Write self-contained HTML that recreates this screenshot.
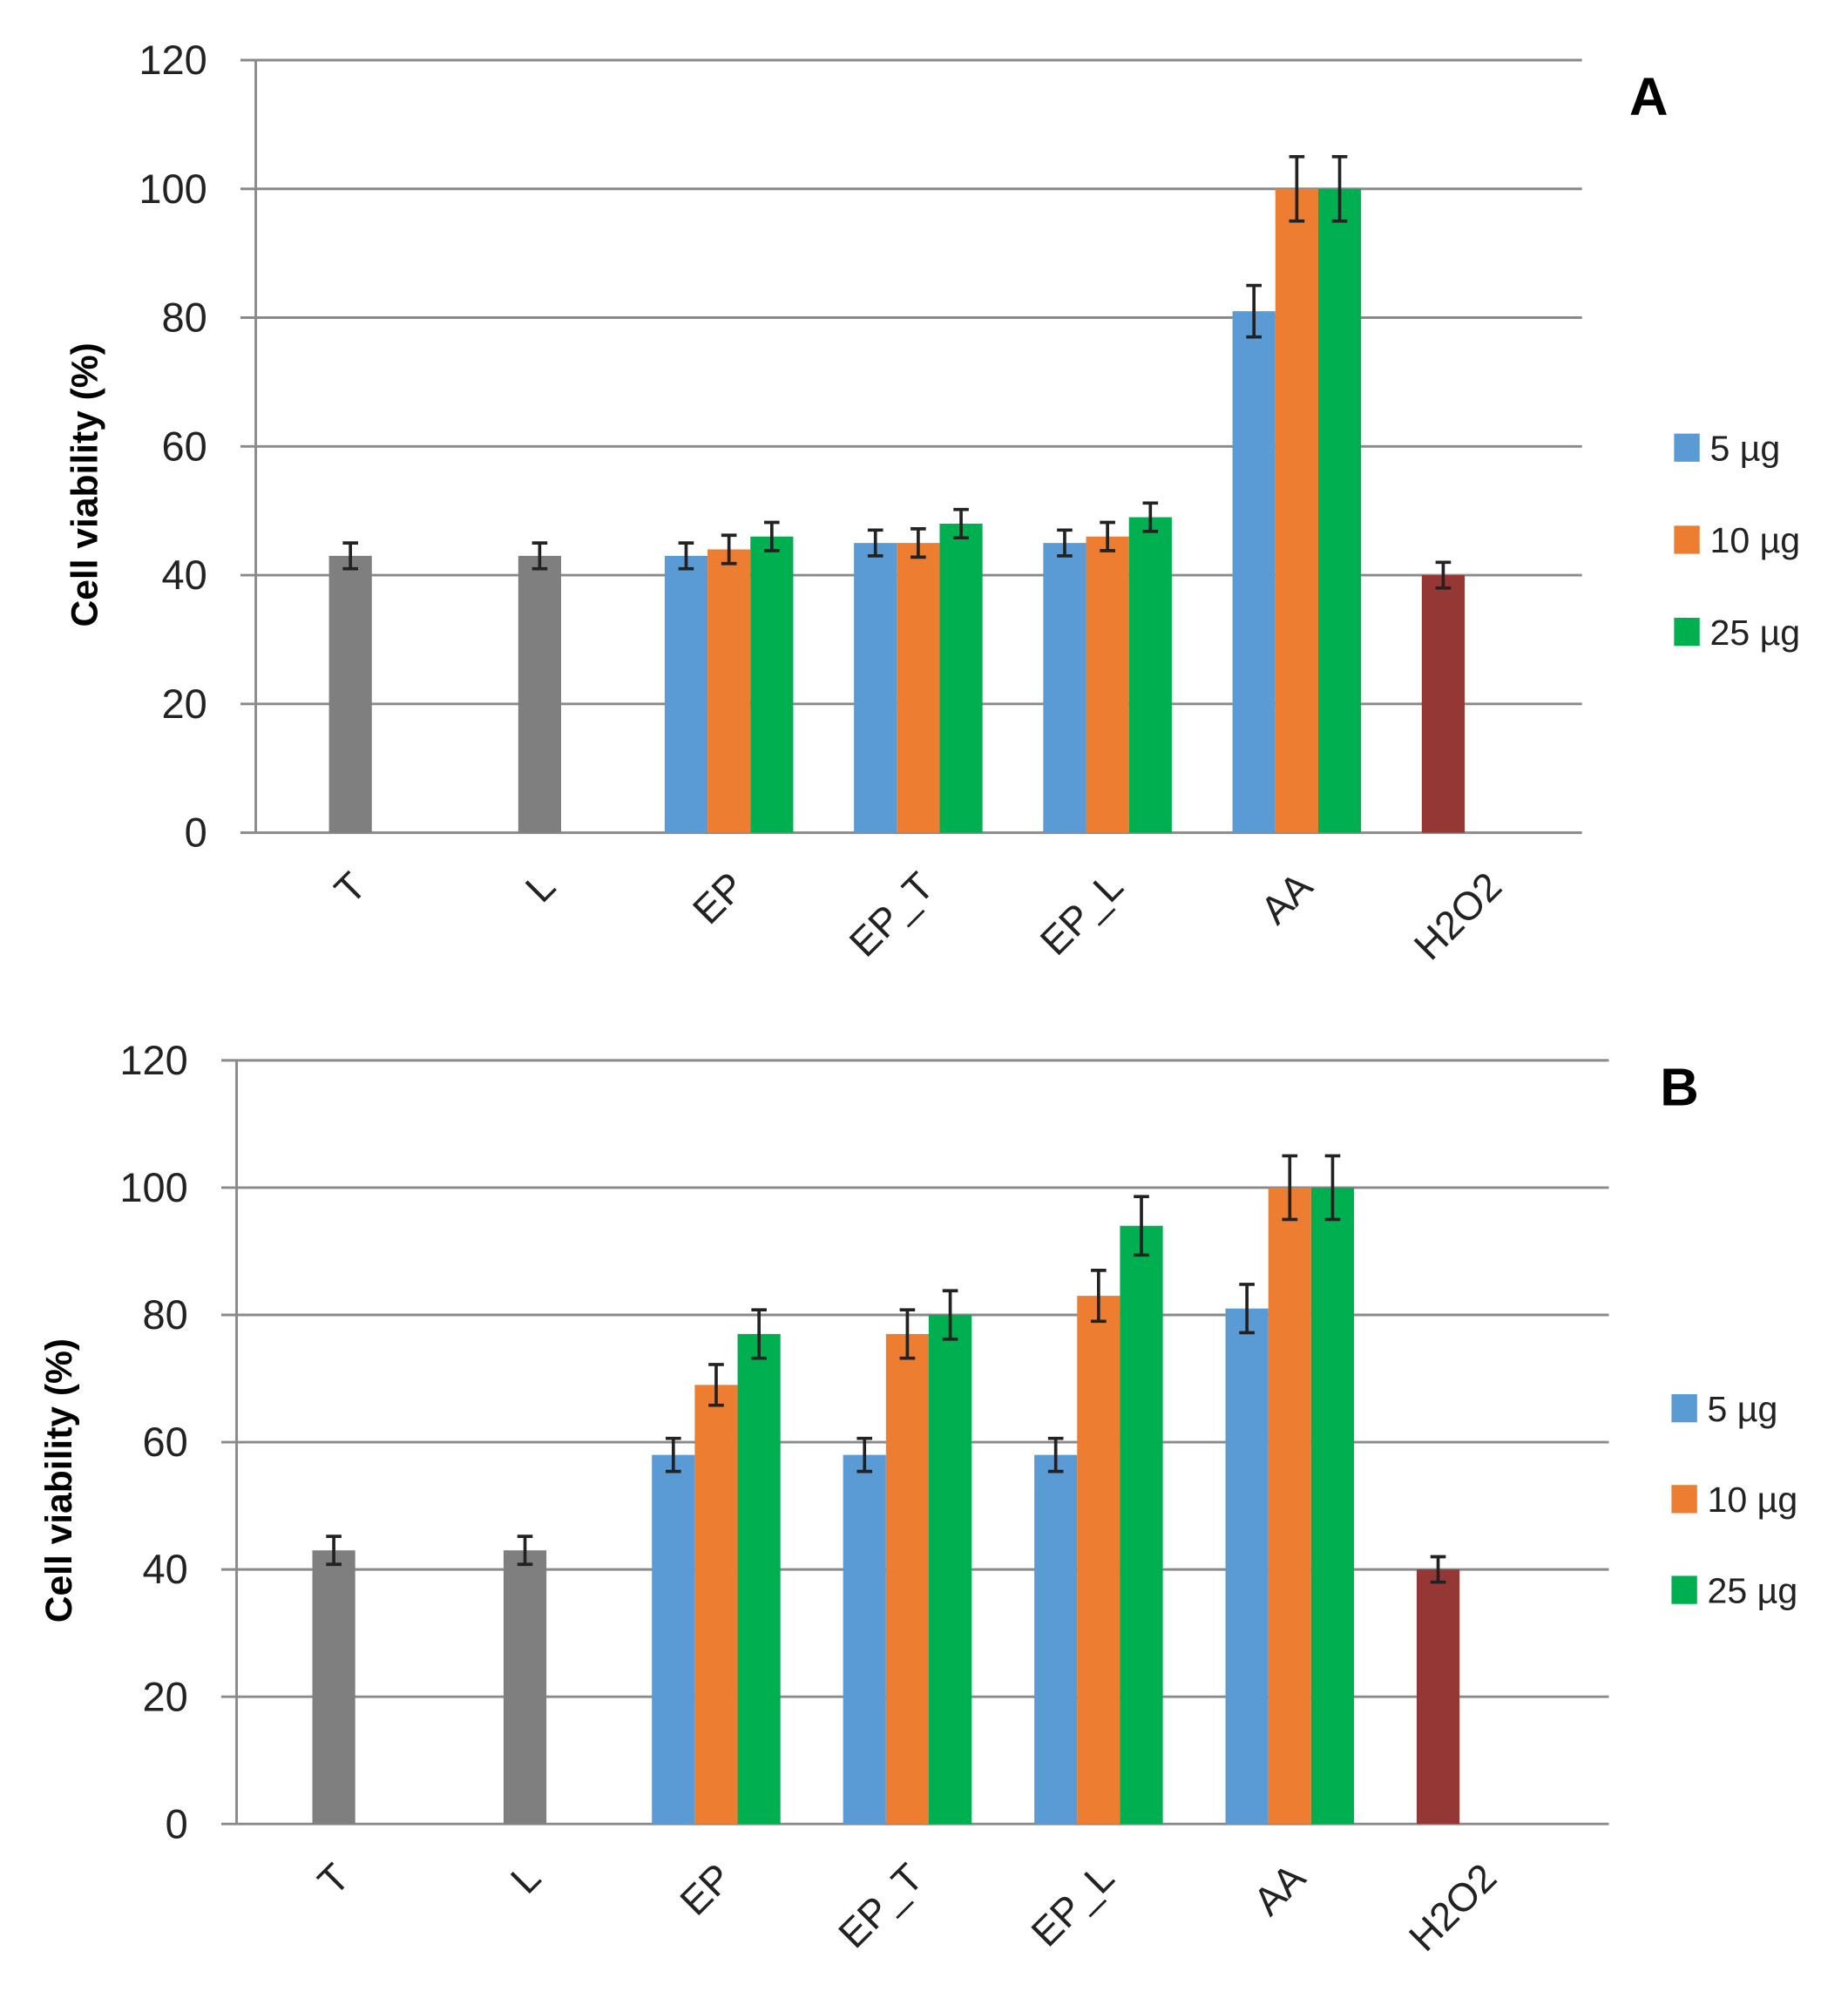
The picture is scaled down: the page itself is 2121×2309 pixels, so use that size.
<!DOCTYPE html>
<html><head><meta charset="utf-8"><style>
html,body{margin:0;padding:0;background:#fff;}
svg{display:block;}
text{font-family:"Liberation Sans",sans-serif;}
</style></head><body>
<svg id="fig" width="2121" height="2309" viewBox="0 0 1445 1573" preserveAspectRatio="none" xmlns="http://www.w3.org/2000/svg"></svg>
<script>
const categories = ["T","L","EP","EP_T","EP_L","AA","H2O2"];
const seriesNames = ["5 µg","10 µg","25 µg"];
const yTicks = [0,20,40,60,80,100,120];
// Panel A values
const aControl = [43,43,null,null,null,null,40];
const aControlErr = [2,2,null,null,null,null,2];
const a5 = [null,null,43,45,45,81,null];
const a10 = [null,null,44,45,46,100,null];
const a25 = [null,null,46,48,49,100,null];
const a5Err = [null,null,2,2,2,4,null];
const a10Err = [null,null,2.2,2.2,2.2,5,null];
const a25Err = [null,null,2.2,2.2,2.2,5,null];
// Panel B values
const bControl = [43,43,null,null,null,null,40];
const bControlErr = [2.2,2.2,null,null,null,null,2];
const b5 = [null,null,58,58,58,81,null];
const b10 = [null,null,69,77,83,100,null];
const b25 = [null,null,77,80,94,100,null];
const b5Err = [null,null,2.6,2.6,2.6,3.8,null];
const b10Err = [null,null,3.2,3.8,4,5,null];
const b25Err = [null,null,3.8,3.8,4.6,5,null];

const NS="http://www.w3.org/2000/svg";
const svg=document.getElementById('fig');
function mk(tag,attrs,parent){const e=document.createElementNS(NS,tag);for(const k in attrs)e.setAttribute(k,attrs[k]);(parent||svg).appendChild(e);return e;}
const colors=["#5B9BD5","#ED7D31","#00B050"];
const ctrlColors=["#7F7F7F","#7F7F7F",null,null,null,null,"#953735"];
const ctrlSlot=[0,0,null,null,null,null,-1];

function panel(p){
  const g=mk('g',{});
  
  
  const y=v=>p.y0-(v/120)*(p.y0-p.y120);
  const cx=i=>p.c0+i*p.step;
  yTicks.forEach(t=>{
    const l=mk('line',{x1:p.xl-12,x2:p.xr,y1:y(t),y2:y(t),stroke:'#8a8a8a','stroke-width':2},g);
    
    
    const tx=mk('text',{x:p.xl-38,y:y(t)+11,'text-anchor':'end','font-size':32,fill:'#222'},g);
    tx.textContent=t;
    
    
  });
  const ax=mk('line',{x1:p.xl,x2:p.xl,y1:p.y120,y2:p.y0,stroke:'#8a8a8a','stroke-width':2},g);
  
  
  const bw=p.bw;
  function bar(xc,v,e,col,name){
    const r=mk('rect',{x:xc-bw/2,y:y(v),width:bw,height:y(0)-y(v),fill:col},g);
    
    
    const eb=mk('path',{d:`M${xc} ${y(v+e)}V${y(v-e)}M${xc-6} ${y(v+e)}H${xc+6}M${xc-6} ${y(v-e)}H${xc+6}`,stroke:'#222','stroke-width':2.5,fill:'none'},g);
    
    
  }
  categories.forEach((c,i)=>{
    if(p.ctrl[i]!=null) bar(cx(i)+ctrlSlot[i]*bw,p.ctrl[i],p.ctrlErr[i],ctrlColors[i],'bar-'+c);
    p.series.forEach((s,k)=>{ if(s[i]!=null) bar(cx(i)+(k-1)*bw,s[i],p.errs[k][i],colors[k],'bar-'+c+'-'+k); });
    const t=mk('text',{x:0,y:0,'text-anchor':'end','font-size':31,fill:'#222',transform:`translate(${cx(i)+14},${p.y0+44}) rotate(-45)`},g);
    t.textContent=c;
    
    
  });
  const yt=mk('text',{x:0,y:0,'text-anchor':'middle','font-size':29,'font-weight':'bold',fill:'#000',transform:`translate(${p.titleX},${(p.y0+p.y120)/2+30}) rotate(-90)`},g);
  yt.textContent='Cell viability (%)';
  
  
  const lb=mk('text',{x:p.labX,y:p.labY,'font-size':42,'font-weight':'bold',fill:'#000'},g);
  lb.textContent=p.id;
  
  
  seriesNames.forEach((n,k)=>{
    const ly=p.legY+k*p.legGap;
    const sq=mk('rect',{x:p.legX,y:ly-11,width:20,height:22,fill:colors[k]},g);
    
    
    const lt=mk('text',{x:p.legX+28,y:ly+10,'font-size':28,fill:'#222'},g);
    lt.textContent=n;
    
    
  });
}
panel({id:'A',xl:200,xr:1237,y0:651,y120:47,c0:274,step:148,bw:33.5,ctrl:aControl,ctrlErr:aControlErr,series:[a5,a10,a25],errs:[a5Err,a10Err,a25Err],titleX:76,labX:1274,labY:90,legX:1309,legY:350,legGap:72});
panel({id:'B',xl:185,xr:1258,y0:1426,y120:829,c0:261,step:149.5,bw:33.5,ctrl:bControl,ctrlErr:bControlErr,series:[b5,b10,b25],errs:[b5Err,b10Err,b25Err],titleX:56,labX:1298,labY:864,legX:1307,legY:1101,legGap:71});
</script>
</body></html>
